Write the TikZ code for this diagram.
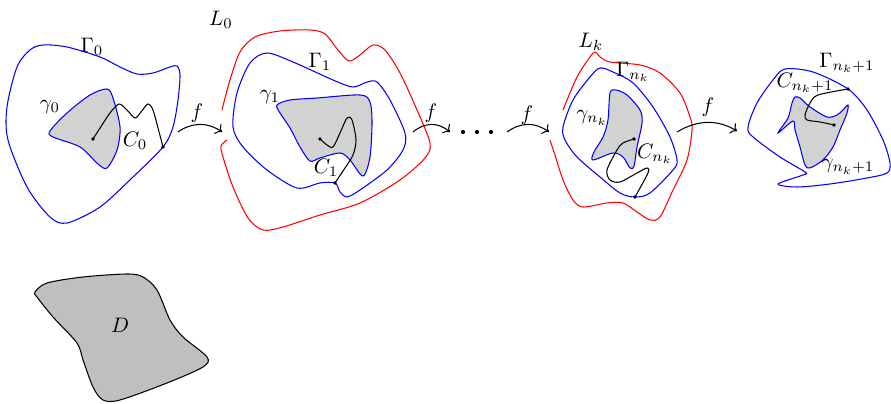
\documentclass[tikz,border=0pt]{standalone}
\usepackage{amsmath,amssymb}
\usetikzlibrary{arrows.meta,calc}
\begin{document}
\begin{tikzpicture}[x=0.476pt, y=-0.476pt,
    every node/.append style={inner sep=0pt},
    bnd/.style={blue, line width=0.5pt},
    lvl/.style={red, line width=0.5pt},
    core/.style={draw=blue, fill=gray!35, line width=0.5pt},
    cpath/.style={black, line width=0.5pt},
    arr/.style={->, line width=0.5pt},
    dotmark/.style={fill=black}
  ]
  \useasboundingbox (0,0) rectangle (891,404);

  % Stage 0
  \coordinate (c0a) at (93,139);
  \coordinate (c0b) at (163,147);
  \draw[bnd] plot[smooth cycle] coordinates {(43,45) (67,47) (100,57) (120,67)
    (137,74) (153,73) (170,67) (177,66) (180,75) (178,100) (173,127) (c0b)
    (133,177) (100,207) (67,223) (50,217) (27,187) (8,140) (7,107) (17,67) (30,50)};
  \draw[core] plot[smooth cycle] coordinates {(50,131) (67,113) (90,95) (107,89)
    (113,98) (120,127) (117,150) (107,168) (98,164) (80,147) (53,137)};
  \draw[cpath] plot[smooth] coordinates {(c0a) (102,125) (110,113) (119,104)
    (127,110) (135,118) (141,112) (148,104) (153,110) (158,128) (c0b)};
  \fill[dotmark] (c0a) circle (0.9pt);
  \fill[dotmark] (c0b) circle (0.9pt);
  \node (G0) at (92,47) {$\Gamma_0$};
  \node (g0) at (50,107) {$\gamma_0$};
  \node (C0) at (135,141) {$C_0$};

  % Stage 1
  \coordinate (c1a) at (320,139);
  \coordinate (c1b) at (335,183);
  \draw[lvl] plot[smooth] coordinates {(222,110) (230,80) (240,52) (255,37)
    (280,31) (310,30) (325,34) (338,50) (349,61) (360,55) (373,45) (385,50)
    (400,73) (417,110) (430,143) (425,158) (400,180) (360,203) (320,215)
    (283,227) (263,230) (248,218) (233,187) (223,157) (221,146) (227,140)};
  \draw[bnd] plot[smooth cycle] coordinates {(233,127) (237,93) (250,63)
    (267,53) (293,62) (333,80) (353,87) (367,82) (377,82) (390,100) (405,133)
    (403,150) (387,170) (360,190) (347,197) (340,192) (c1b) (320,183) (297,188)
    (267,170) (243,147)};
  \draw[core] plot[smooth cycle] coordinates {(277,105) (290,100) (317,98)
    (360,95) (370,102) (372,123) (370,157) (363,176) (350,160) (340,153)
    (320,158) (310,161) (300,147) (290,128) (280,113)};
  \draw[cpath] plot[smooth] coordinates {(c1a) (327,145) (333,147) (340,133)
    (347,118) (352,120) (356,140) (353,155) (345,168) (c1b)};
  \fill[dotmark] (c1a) circle (0.9pt);
  \fill[dotmark] (c1b) circle (0.9pt);
  \node (L0) at (221,20) {$L_0$};
  \node (G1) at (320,62) {$\Gamma_1$};
  \node (g1) at (270,97) {$\gamma_1$};
  \node (C1) at (326,168) {$C_1$};

  % Stage n_k
  \coordinate (cka) at (634,139);
  \coordinate (ckb) at (635,197);
  \draw[lvl] plot[smooth] coordinates {(563,110) (577,77) (590,57) (595,52)
    (600,57) (610,62) (640,65) (660,73) (680,93) (690,117) (692,130) (687,160)
    (673,190) (660,217) (650,220) (637,212) (623,203) (607,203) (583,207)
    (573,200) (563,180) (555,155) (550,140)};
  \draw[bnd] plot[smooth cycle] coordinates {(563,127) (573,100) (590,77)
    (600,68) (613,72) (633,83) (653,107) (670,137) (677,160) (673,170)
    (650,193) (ckb) (620,193) (600,177) (577,157) (565,140)};
  \draw[core] plot[smooth cycle] coordinates {(610,93) (616,90) (627,95)
    (640,110) (642,123) (637,147) (634,166) (630,168) (623,157) (613,153)
    (593,160) (594,152) (603,137) (608,120)};
  \draw[cpath] plot[smooth] coordinates {(cka) (623,143) (617,150) (607,170)
    (610,180) (620,182) (637,173) (647,168) (648,173) (ckb)};
  \fill[dotmark] (cka) circle (0.9pt);
  \fill[dotmark] (ckb) circle (0.9pt);
  \node (Lk) at (591,42) {$L_k$};
  \node (Gk) at (633,72) {$\Gamma_{n_k}$};
  \node (gk) at (592,118) {$\gamma_{n_k}$};
  \node (Ck) at (655,154) {$C_{n_k}$};

  % Stage n_k+1
  \coordinate (cla) at (834,125);
  \coordinate (clb) at (848,89);
  \draw[bnd] plot[smooth cycle] coordinates {(785,69) (813,72) (clb) (867,110)
    (883,140) (890,163) (887,173) (867,178) (830,184) (797,187) (778,184)
    (803,175) (805,172) (780,157) (753,137) (748,127) (757,103) (773,80)};
  \draw[core] plot[smooth cycle] coordinates {(778,133) (788,118) (792,103)
    (795,97) (800,98) (810,107) (827,117) (837,115) (843,110) (848,105)
    (847,113) (840,130) (833,147) (823,160) (810,168) (805,165) (800,147)
    (795,130) (793,121)};
  \draw[cpath] plot[smooth] coordinates {(cla) (820,122) (807,120) (805,115)
    (810,103) (818,95) (clb)};
  \fill[dotmark] (cla) circle (0.9pt);
  \fill[dotmark] (clb) circle (0.9pt);
  \node (Gl) at (847,63) {$\Gamma_{n_k+1}$};
  \node (Cl) at (805,83) {$C_{n_k+1}$};
  \node (gl) at (848,167) {$\gamma_{n_k+1}$};

  % Maps f
  \coordinate (f1s) at (178,132);
  \coordinate (f1e) at (222,132);
  \coordinate (f2s) at (413,132);
  \coordinate (f2e) at (450,132);
  \coordinate (f3s) at (507,132);
  \coordinate (f3e) at (549,132);
  \coordinate (f4s) at (677,132);
  \coordinate (f4e) at (737,131);
  \draw[arr] (f1s) .. controls +(14,-10) and +(-14,-10) .. (f1e);
  \draw[arr] (f2s) .. controls +(12,-10) and +(-12,-10) .. (f2e);
  \draw[arr] (f3s) .. controls +(14,-10) and +(-14,-10) .. (f3e);
  \draw[arr] (f4s) .. controls +(20,-12) and +(-20,-12) .. (f4e);
  \node (f1) at (197,113) {$f$};
  \node (f2) at (431,113) {$f$};
  \node (f3) at (527,115) {$f$};
  \node (f4) at (708,107) {$f$};
  \fill (463,132) circle (1pt) (477,132) circle (1pt) (491,132) circle (1pt);

  % Domain D
  \draw[fill=gray!50, line width=0.5pt] plot[smooth cycle] coordinates {(35,292)
    (47,283) (83,277) (127,274) (143,277) (157,290) (170,320) (183,337)
    (207,357) (203,367) (167,383) (120,400) (103,400) (93,387) (83,360)
    (77,343) (53,317) (37,297)};
  \node (D) at (120,325) {$D$};
\end{tikzpicture}
\end{document}
